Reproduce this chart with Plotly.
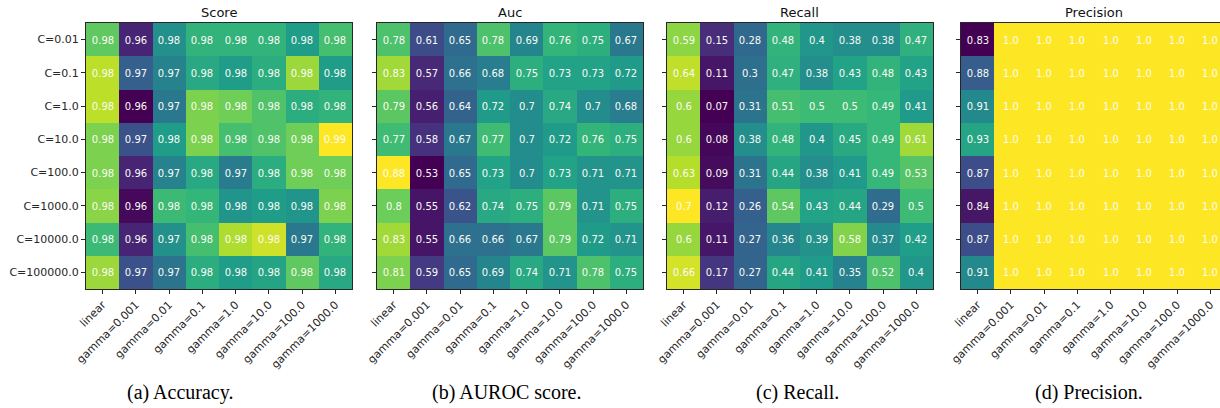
import plotly.graph_objects as go

W, H = 1220, 408

row_labels = ["C=0.01", "C=0.1", "C=1.0", "C=10.0", "C=100.0", "C=1000.0", "C=10000.0", "C=100000.0"]
col_labels = ["linear", "gamma=0.001", "gamma=0.01", "gamma=0.1", "gamma=1.0", "gamma=10.0", "gamma=100.0", "gamma=1000.0"]

# Accuracy: colour estimates (finer than the printed labels) and the printed labels
score_values = [
    [0.9825, 0.9630, 0.9750, 0.9795, 0.9795, 0.9795, 0.9765, 0.9810],
    [0.9870, 0.9690, 0.9735, 0.9780, 0.9765, 0.9786, 0.9855, 0.9765],
    [0.9870, 0.9600, 0.9720, 0.9840, 0.9834, 0.9816, 0.9786, 0.9795],
    [0.9840, 0.9675, 0.9765, 0.9840, 0.9810, 0.9816, 0.9834, 0.9900],
    [0.9840, 0.9630, 0.9735, 0.9780, 0.9726, 0.9786, 0.9834, 0.9834],
    [0.9846, 0.9606, 0.9804, 0.9798, 0.9756, 0.9765, 0.9756, 0.9840],
    [0.9804, 0.9630, 0.9750, 0.9810, 0.9864, 0.9879, 0.9720, 0.9795],
    [0.9855, 0.9675, 0.9714, 0.9786, 0.9765, 0.9774, 0.9825, 0.9780],
]
score_labels = [
    ["0.98", "0.96", "0.98", "0.98", "0.98", "0.98", "0.98", "0.98"],
    ["0.98", "0.97", "0.97", "0.98", "0.98", "0.98", "0.98", "0.98"],
    ["0.98", "0.96", "0.97", "0.98", "0.98", "0.98", "0.98", "0.98"],
    ["0.98", "0.97", "0.98", "0.98", "0.98", "0.98", "0.98", "0.99"],
    ["0.98", "0.96", "0.97", "0.98", "0.97", "0.98", "0.98", "0.98"],
    ["0.98", "0.96", "0.98", "0.98", "0.98", "0.98", "0.98", "0.98"],
    ["0.98", "0.96", "0.97", "0.98", "0.98", "0.98", "0.97", "0.98"],
    ["0.98", "0.97", "0.97", "0.98", "0.98", "0.98", "0.98", "0.98"],
]

auc_values = [
    [0.78, 0.61, 0.65, 0.78, 0.69, 0.76, 0.75, 0.67],
    [0.83, 0.57, 0.66, 0.68, 0.75, 0.73, 0.73, 0.72],
    [0.79, 0.56, 0.64, 0.72, 0.7, 0.74, 0.7, 0.68],
    [0.77, 0.58, 0.67, 0.77, 0.7, 0.72, 0.76, 0.75],
    [0.88, 0.53, 0.65, 0.73, 0.7, 0.73, 0.71, 0.71],
    [0.8, 0.55, 0.62, 0.74, 0.75, 0.79, 0.71, 0.75],
    [0.83, 0.55, 0.66, 0.66, 0.67, 0.79, 0.72, 0.71],
    [0.81, 0.59, 0.65, 0.69, 0.74, 0.71, 0.78, 0.75],
]

recall_values = [
    [0.59, 0.15, 0.28, 0.48, 0.4, 0.38, 0.38, 0.47],
    [0.64, 0.11, 0.3, 0.47, 0.38, 0.43, 0.48, 0.43],
    [0.6, 0.07, 0.31, 0.51, 0.5, 0.5, 0.49, 0.41],
    [0.6, 0.08, 0.38, 0.48, 0.4, 0.45, 0.49, 0.61],
    [0.63, 0.09, 0.31, 0.44, 0.38, 0.41, 0.49, 0.53],
    [0.7, 0.12, 0.26, 0.54, 0.43, 0.44, 0.29, 0.5],
    [0.6, 0.11, 0.27, 0.36, 0.39, 0.58, 0.37, 0.42],
    [0.66, 0.17, 0.27, 0.44, 0.41, 0.35, 0.52, 0.4],
]

precision_values = [
    [0.83, 1.0, 1.0, 1.0, 1.0, 1.0, 1.0, 1.0],
    [0.88, 1.0, 1.0, 1.0, 1.0, 1.0, 1.0, 1.0],
    [0.91, 1.0, 1.0, 1.0, 1.0, 1.0, 1.0, 1.0],
    [0.93, 1.0, 1.0, 1.0, 1.0, 1.0, 1.0, 1.0],
    [0.87, 1.0, 1.0, 1.0, 1.0, 1.0, 1.0, 1.0],
    [0.84, 1.0, 1.0, 1.0, 1.0, 1.0, 1.0, 1.0],
    [0.87, 1.0, 1.0, 1.0, 1.0, 1.0, 1.0, 1.0],
    [0.91, 1.0, 1.0, 1.0, 1.0, 1.0, 1.0, 1.0],
]

titles = ["Score", "Auc", "Recall", "Precision"]
captions = ["(a) Accuracy.", "(b) AUROC score.", "(c) Recall.", "(d) Precision."]
caption_x = [180, 506, 797, 1089]

def labels_of(vals):
    return [[str(round(v, 2)) for v in row] for row in vals]

panels = [
    (score_values, score_labels),
    (auc_values, labels_of(auc_values)),
    (recall_values, labels_of(recall_values)),
    (precision_values, labels_of(precision_values)),
]

# panel pixel boxes (left edge) and vertical extent
px_left = [86, 377, 667, 961]
cell = 33.25
top_px, bot_px = 23, 289

fig = go.Figure()
FONT = "DejaVu Sans"
for i, (vals, labs) in enumerate(panels):
    n = i + 1
    xa = "x" if n == 1 else f"x{n}"
    ya = "y" if n == 1 else f"y{n}"
    fig.add_trace(go.Heatmap(
        z=vals, x=list(range(8)), y=list(range(8)),
        text=labs, texttemplate="%{text}",
        textfont=dict(family=FONT, size=10, color="#fbfbf4"),
        colorscale="Viridis", showscale=False, hoverinfo="skip",
        xaxis=xa, yaxis=ya,
    ))
    left = px_left[i]
    right = min(left + 8 * cell, W)
    xr_hi = -0.5 + (right - left) / cell
    ax_common = dict(
        showline=True, linecolor="#262626", linewidth=1, mirror=True,
        ticks="outside", ticklen=4, tickcolor="#262626", tickwidth=1,
        showgrid=False, zeroline=False, automargin=False,
        tickfont=dict(family=FONT, size=11, color="#262626"),
    )
    fig.layout[("xaxis" if n == 1 else f"xaxis{n}")] = dict(
        domain=[left / W, right / W], range=[-0.5, xr_hi],
        tickmode="array", tickvals=list(range(8)), ticktext=col_labels,
        tickangle=-45, anchor=ya, **ax_common,
    )
    fig.layout[("yaxis" if n == 1 else f"yaxis{n}")] = dict(
        domain=[1 - bot_px / H, 1 - top_px / H], range=[7.5, -0.5],
        tickmode="array", tickvals=list(range(8)),
        ticktext=row_labels if i == 0 else [""] * 8,
        anchor=xa, **ax_common,
    )
    cx = (left + left + 8 * cell) / 2
    fig.add_annotation(text=titles[i], x=cx / W, y=1 - 12 / H, xref="paper", yref="paper",
                       showarrow=False, xanchor="center", yanchor="middle",
                       font=dict(family=FONT, size=13, color="#111111"))
    fig.add_annotation(text=captions[i], x=caption_x[i] / W, y=1 - 392 / H, xref="paper", yref="paper",
                       showarrow=False, xanchor="center", yanchor="middle",
                       font=dict(family="Liberation Serif", size=20, color="black"))

fig.update_layout(
    width=W, height=H, margin=dict(l=0, r=0, t=0, b=0),
    paper_bgcolor="white", plot_bgcolor="white", showlegend=False,
)
fig.write_html("out.html", config={"displayModeBar": False},
               post_script="document.body.style.margin='0px';document.body.style.overflow='hidden';")
